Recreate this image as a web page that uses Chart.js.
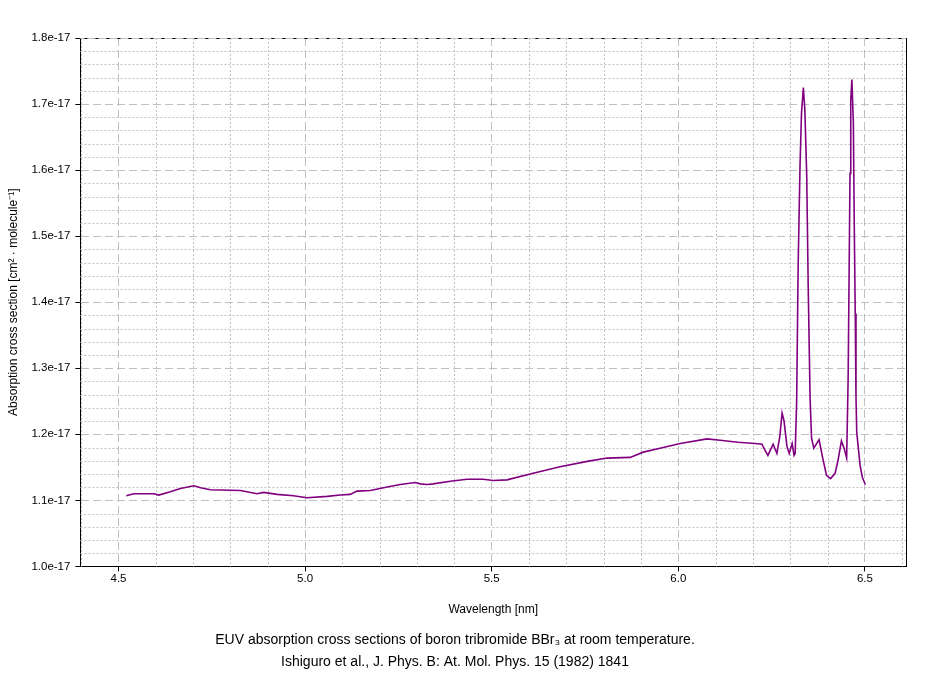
<!DOCTYPE html>
<html>
<head>
<meta charset="utf-8">
<script src="https://cdn.jsdelivr.net/npm/chart.js@4/dist/chart.umd.min.js"></script>
<style>
  html, body { margin: 0; padding: 0; background: #fff; }
  #wrap { width: 944px; height: 673px; }
</style>
</head>
<body>
<div id="wrap"><canvas id="chart"></canvas></div>
<script>
// wavelength in nm, cross section in units of 1e-17 cm^2 / molecule
const wavelength = [
  4.521, 4.541, 4.595, 4.608, 4.639, 4.666, 4.702, 4.720, 4.746, 4.827,
  4.871, 4.889, 4.925, 4.969, 5.005, 5.059, 5.094, 5.121, 5.139, 5.175,
  5.210, 5.255, 5.295, 5.309, 5.327, 5.343, 5.389, 5.434, 5.477, 5.504,
  5.541, 5.611, 5.683, 5.756, 5.809, 5.871, 5.906, 5.951, 6.005, 6.077,
  6.112, 6.160, 6.205, 6.224, 6.232, 6.240, 6.254, 6.264, 6.272, 6.278,
  6.283, 6.291, 6.297, 6.305, 6.310, 6.313, 6.317, 6.321, 6.326, 6.330,
  6.335, 6.339, 6.344, 6.348, 6.353, 6.357, 6.363, 6.377, 6.388, 6.397,
  6.408, 6.420, 6.428, 6.437, 6.444, 6.451, 6.455, 6.460, 6.462, 6.465,
  6.469, 6.471, 6.474, 6.476, 6.478, 6.482, 6.487, 6.493, 6.501
];
const crossSection = [
  1.107, 1.110, 1.110, 1.108, 1.113, 1.118, 1.122, 1.119, 1.116, 1.115,
  1.110, 1.112, 1.109, 1.107, 1.104, 1.106, 1.108, 1.109, 1.114, 1.115,
  1.119, 1.124, 1.127, 1.125, 1.124, 1.125, 1.129, 1.132, 1.132, 1.130,
  1.131, 1.141, 1.151, 1.159, 1.164, 1.165, 1.173, 1.179, 1.186, 1.193,
  1.191, 1.188, 1.186, 1.185, 1.176, 1.168, 1.185, 1.171, 1.197, 1.232,
  1.221, 1.182, 1.171, 1.186, 1.168, 1.171, 1.249, 1.453, 1.605, 1.686,
  1.725, 1.691, 1.592, 1.423, 1.255, 1.194, 1.179, 1.192, 1.161, 1.138,
  1.133, 1.141, 1.161, 1.190, 1.179, 1.164, 1.285, 1.595, 1.706, 1.737,
  1.671, 1.539, 1.383, 1.257, 1.203, 1.181, 1.153, 1.135, 1.124
];

const xTitle = "Wavelength [nm]";
const yTitle = "Absorption cross section [cm\u00B2 \u00B7 molecule\u207B\u00B9]";
const captionLines = [
  "EUV absorption cross sections of boron tribromide BBr\u2083 at room temperature.",
  "Ishiguro et al., J. Phys. B: At. Mol. Phys. 15 (1982) 1841"
];

const FONT = "'Liberation Sans', Arial, sans-serif";
const GRID = "#c0c0c0";

// dotted minor grid, right frame line and top edge
const minorGrid = {
  id: "minorGrid",
  beforeDatasetsDraw(chart) {
    const { ctx, chartArea: a, scales: { x, y } } = chart;
    ctx.save();
    ctx.strokeStyle = GRID;
    ctx.lineWidth = 1;
    ctx.setLineDash([2, 2]);
    for (let k = 44; k <= 66; k++) {
      if (k % 5 === 0) continue;
      const px = Math.round(x.getPixelForValue(k / 10)) + 0.5;
      if (px <= a.left + 1 || px >= a.right) continue;
      ctx.beginPath();
      ctx.moveTo(px, a.top);
      ctx.lineTo(px, a.bottom);
      ctx.stroke();
    }
    for (let k = 100; k <= 180; k += 2) {
      if (k % 10 === 0) continue;
      const py = Math.round(y.getPixelForValue(k / 100)) + 0.5;
      ctx.beginPath();
      ctx.moveTo(a.left, py);
      ctx.lineTo(a.right, py);
      ctx.stroke();
    }
    // top edge: gray line with short black dashes
    const ty = Math.round(a.top) + 0.5;
    ctx.setLineDash([]);
    ctx.beginPath();
    ctx.moveTo(a.left, ty);
    ctx.lineTo(a.right, ty);
    ctx.stroke();
    ctx.strokeStyle = "#000";
    ctx.setLineDash([3, 8]);
    ctx.lineDashOffset = -4;
    ctx.beginPath();
    ctx.moveTo(a.left, ty);
    ctx.lineTo(a.right, ty);
    ctx.stroke();
    // right edge
    ctx.setLineDash([]);
    ctx.beginPath();
    ctx.moveTo(Math.round(a.right) + 0.5, a.top);
    ctx.lineTo(Math.round(a.right) + 0.5, a.bottom);
    ctx.stroke();
    ctx.restore();
  }
};

new Chart(document.getElementById("chart"), {
  type: "line",
  plugins: [minorGrid],
  data: {
    datasets: [{
      data: wavelength.map((w, i) => ({ x: w, y: crossSection[i] })),
      borderColor: "#800080",
      borderWidth: 1.6,
      pointRadius: 0,
      tension: 0,
      fill: false
    }]
  },
  options: {
    animation: false,
    responsive: true,
    maintainAspectRatio: false,
    layout: { padding: { left: 4, right: 38, top: 38, bottom: 0 } },
    plugins: {
      legend: { display: false },
      tooltip: { enabled: false },
      title: {
        display: true,
        position: "bottom",
        text: captionLines,
        color: "#000",
        font: { family: FONT, size: 14, weight: "normal", lineHeight: 1.55 },
        padding: { top: 11, bottom: 0 }
      }
    },
    scales: {
      x: {
        type: "linear",
        min: 4.398,
        max: 6.61,
        ticks: {
          stepSize: 0.5,
          includeBounds: false,
          color: "#000",
          font: { family: FONT, size: 11.5 },
          padding: 1,
          maxRotation: 0,
          callback: v => v.toFixed(1)
        },
        grid: { color: GRID, tickColor: "#000", tickLength: 5 },
        border: { display: true, color: "#000", width: 1, dash: [8, 4] },
        title: {
          display: true,
          text: xTitle,
          color: "#000",
          font: { family: FONT, size: 12 },
          padding: { top: 15, bottom: 2 }
        }
      },
      y: {
        type: "linear",
        min: 1.0,
        max: 1.8,
        ticks: {
          stepSize: 0.1,
          color: "#000",
          font: { family: FONT, size: 11.5 },
          padding: 5,
          callback: v => v.toFixed(1) + "e-17"
        },
        grid: {
          color: c => (c.tick && c.tick.value > 1.79 ? "rgba(0,0,0,0)" : GRID),
          tickColor: "#000",
          tickLength: 5
        },
        border: { display: true, color: "#000", width: 1, dash: [8, 4] },
        title: {
          display: true,
          text: yTitle,
          color: "#000",
          font: { family: FONT, size: 12 },
          padding: { top: 2, bottom: 6 }
        }
      }
    }
  }
});
</script>
</body>
</html>
